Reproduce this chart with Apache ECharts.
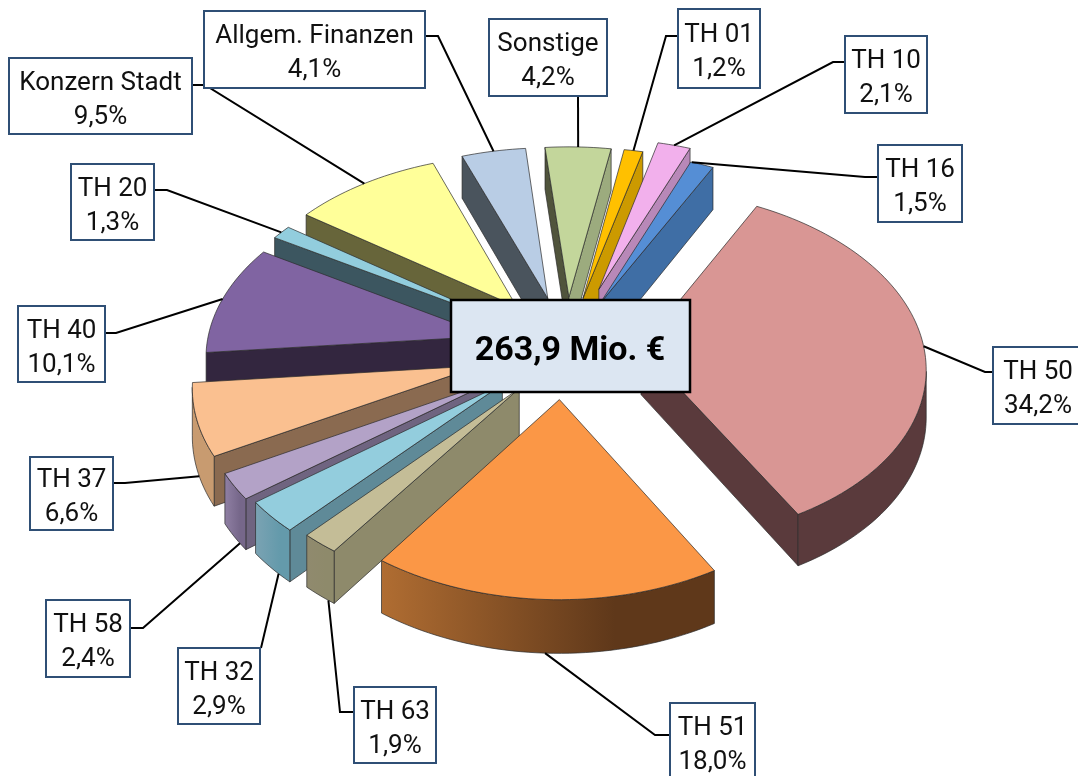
<!DOCTYPE html>
<html>
<head>
<meta charset="utf-8">
<title>263,9 Mio. €</title>
<style>
html, body { margin: 0; padding: 0; background: #fff; }
#main { width: 1078px; height: 776px; }
</style>
<script src="https://cdn.jsdelivr.net/npm/echarts@6/dist/echarts.min.js"></script>
</head>
<body>
<div id="main"></div>
<script>
// Daten
var categories = ['TH 50', 'TH 51', 'TH 63', 'TH 32', 'TH 58', 'TH 37', 'TH 40', 'TH 20',
    'Konzern Stadt', 'Allgem. Finanzen', 'Sonstige', 'TH 01', 'TH 10', 'TH 16'];
var shares = [34.2, 18.0, 1.9, 2.9, 2.4, 6.6, 10.1, 1.3, 9.5, 4.1, 4.2, 1.2, 2.1, 1.5];
var totalText = '263,9 Mio. €';

// Farben
var topColors = ['#d99694', '#fb9746', '#c4bd97', '#93cddd', '#b3a2c7', '#fac090', '#8064a2',
    '#92cddd', '#ffff99', '#b9cde5', '#c3d69b', '#ffc000', '#f2b0ec', '#558ed5'];
var startFaceColors = ['#5a3a3c', '#7a4a20', '#8e8a6b', '#5f8a98', '#6f6480', '#8a6a50', '#33263f',
    '#3c5660', '#67653a', '#4a545d', '#50543c', '#cc9a00', '#b888b8', '#3f6ea5'];
var endFaceColors = ['#5a3a3c', '#5a3a3c', '#8e8a6b', '#5f8a98', '#6f6480', '#c89b70', '#33263f',
    '#3c5660', '#67653a', '#4a545d', '#9cab7e', '#cc9a00', '#b888b8', '#3f6ea5'];
var rimDarkColors = ['#5a3a3c', '#5f381a', '#8e8a6b', '#649aab', '#76678a', '#c89b70', '#33263f',
    '#3c5660', '#67653a', '#4a545d', '#50543c', '#cc9a00', '#b888b8', '#3f6ea5'];
var rimLightColors = ['#5a3a3c', '#b06d32', '#908a6e', '#7ba3b3', '#9080a4', '#c89b70', '#33263f',
    '#3c5660', '#67653a', '#4a545d', '#50543c', '#cc9a00', '#b888b8', '#3f6ea5'];

// Lage der Beschriftungen: Kasten [x, y, b, h], Linie [Start am Kasten, Knick]
var labelBoxes = [[993, 347, 90, 77], [670, 703, 85, 77], [354, 687, 82, 76], [178, 648, 82, 76],
    [46, 600, 84, 77], [30, 457, 83, 73], [18, 306, 87, 76], [71, 164, 83, 76],
    [9, 58, 183, 76], [204, 11, 221, 77], [489, 19, 118, 77], [678, 9, 82, 79],
    [845, 36, 82, 77], [878, 145, 84, 77]];
var leaderStarts = [[993, 372], [670, 735], [354, 712], [261, 648], [130, 628], [113, 483], [105, 333],
    [154, 190], [192, 85], [425, 36], [578, 96], [678, 36], [845, 62], [878, 177]];
var leaderBends = [[985, 372], [655, 735], [340, 712], [261, 648], [143, 628], [125, 483], [116, 333],
    [167, 190], [205, 85], [438, 36], [578, 96], [666, 36], [833, 62], [865, 177]];
// wo die Linie am Rand des Stuecks ankommt (0 = Anfang, 1 = Ende)
var leaderAt = [0.5, 0.5, 0.2, 0.3, 0.25, 0.4, 0.5, 0.5, 0.5, 0.5, 0.5, 0.5, 0.5, 0.05];

// 3D Parameter
var cx = 565, cy = 345;
var explode = 80, wallHeight = 47;
var tilt = 0.615, persp = 2870;
var startAngle = 27;
// Feinlage je Stueck
var sliceRadius = [283, 277, 283, 283, 283, 283, 283, 283, 283, 283, 283, 283, 283, 283];
var sliceTurn = [1, 0, 0, 0, 0, 0, 0, 0, 0, 0, 0, 0, 0, 0];
var nudgeX = [-4, -2, 5, -3, -5, -8, 2, 0, -1, 0, 1, 2, 10, 3];
var nudgeY = [3, 4, 4, 5, 9, 6, 2, 2, 0, 0, 0, 0, -10, 2];

var total = 0;
shares.forEach(function (v) { total += v; });

function sliceAngles(i) {
    var before = 0;
    for (var k = 0; k < i; k++) { before += shares[k]; }
    var a0 = startAngle + sliceTurn[i] + before / total * 360;
    return [a0, a0 + shares[i] / total * 360];
}

// Boden-Koordinaten (x rechts, y nach hinten) auf den Bildschirm
function project(x, y, down) {
    var s = persp / (persp + y);
    return [cx + x * s, cy - y * tilt * s + down * s];
}

function slicePoint(i, deg, r, down) {
    var ang = sliceAngles(i);
    var a = deg * Math.PI / 180, m = (ang[0] + ang[1]) / 2 * Math.PI / 180;
    var p = project(explode * Math.sin(m) + r * Math.sin(a), explode * Math.cos(m) + r * Math.cos(a), down);
    return [p[0] + nudgeX[i], p[1] + nudgeY[i]];
}

function area(p) {
    var s = 0;
    for (var i = 0; i < p.length; i++) {
        var q = p[(i + 1) % p.length];
        s += p[i][0] * q[1] - q[0] * p[i][1];
    }
    return s / 2;
}

// von hinten nach vorne zeichnen
var depthRank = shares.map(function (v, i) {
    var ang = sliceAngles(i);
    return { i: i, d: Math.cos((ang[0] + ang[1]) / 2 * Math.PI / 180) };
}).sort(function (a, b) { return b.d - a.d; }).map(function (o) { return o.i; });

function face(points, fill, z2) {
    return {
        type: 'polygon',
        z2: z2,
        shape: { points: points },
        style: { fill: fill, stroke: '#2b2b2b', lineWidth: 0.7 },
        silent: true
    };
}

function renderSlice(params, api) {
    var i = params.dataIndex;
    var ang = sliceAngles(i);
    var a0 = ang[0], a1 = ang[1], mid = (a0 + a1) / 2;
    var r = sliceRadius[i];
    var base = depthRank.indexOf(i) * 10 + 1;
    var children = [];

    var apexTop = slicePoint(i, mid, 0, 0), apexBot = slicePoint(i, mid, 0, wallHeight);
    var startTop = slicePoint(i, a0, r, 0), startBot = slicePoint(i, a0, r, wallHeight);
    var endTop = slicePoint(i, a1, r, 0), endBot = slicePoint(i, a1, r, wallHeight);

    var startFace = [apexTop, startTop, startBot, apexBot];
    if (area(startFace) < 0) { children.push(face(startFace, startFaceColors[i], base)); }
    var endFace = [endTop, apexTop, apexBot, endBot];
    if (area(endFace) < 0) { children.push(face(endFace, endFaceColors[i], base)); }

    // Aussenwand: nur der sichtbare Teil, als ein Stueck mit Verlauf
    var steps = Math.max(2, Math.ceil((a1 - a0) / 1.5));
    var rimTop = [], rimBot = [], top = [apexTop];
    for (var n = 0; n <= steps; n++) {
        var a = a0 + (a1 - a0) * n / steps;
        top.push(slicePoint(i, a, r, 0));
        if (n < steps) {
            var b = a0 + (a1 - a0) * (n + 1) / steps;
            var seg = [slicePoint(i, a, r, 0), slicePoint(i, b, r, 0),
                slicePoint(i, b, r, wallHeight), slicePoint(i, a, r, wallHeight)];
            if (area(seg) < 0) {
                if (!rimTop.length) { rimTop.push(seg[0]); rimBot.push(seg[3]); }
                rimTop.push(seg[1]);
                rimBot.push(seg[2]);
            }
        }
    }
    if (rimTop.length) {
        children.push(face(rimTop.concat(rimBot.reverse()), new echarts.graphic.LinearGradient(0, 0, 1, 0, [
            { offset: 0, color: rimLightColors[i] },
            { offset: 0.7, color: rimDarkColors[i] },
            { offset: 1, color: rimDarkColors[i] }
        ]), base + 1));
    }

    children.push(face(top, topColors[i], base + 3));
    return { type: 'group', children: children };
}

function leaderEnd(i) {
    var ang = sliceAngles(i);
    var at = ang[0] + (ang[1] - ang[0]) * leaderAt[i];
    var front = Math.cos(at * Math.PI / 180) < 0;
    return slicePoint(i, at, sliceRadius[i], front ? wallHeight : 0);
}

function renderLabel(params, api) {
    var i = params.dataIndex;
    var box = labelBoxes[i];
    var text = categories[i] + '\n' + api.value(0).toFixed(1).replace('.', ',') + '%';
    return {
        type: 'group',
        children: [{
            type: 'polyline', z2: 1, silent: true,
            shape: { points: [leaderStarts[i], leaderBends[i], leaderEnd(i)] },
            style: { stroke: '#000', lineWidth: 2, fill: null }
        }, {
            type: 'rect', z2: 5, silent: true,
            shape: { x: box[0], y: box[1], width: box[2], height: box[3] },
            style: { fill: '#fff', stroke: '#2f4f75', lineWidth: 2 }
        }, {
            type: 'text', z2: 6, silent: true,
            style: {
                x: box[0] + box[2] / 2,
                y: box[1] + box[3] / 2 + 4,
                text: text,
                fill: '#111',
                font: '26px Roboto',
                lineHeight: 34,
                align: 'center',
                verticalAlign: 'middle'
            }
        }]
    };
}

var myChart = echarts.init(document.getElementById('main'));
var option = {
    animation: false,
    backgroundColor: '#fff',
    series: [{
        type: 'custom',
        coordinateSystem: 'none',
        renderItem: renderSlice,
        data: shares.map(function (v) { return [v]; }),
        z: 2,
        silent: true
    }, {
        type: 'custom',
        coordinateSystem: 'none',
        renderItem: renderLabel,
        data: shares.map(function (v) { return [v]; }),
        z: 3,
        silent: true
    }],
    graphic: [{
        type: 'rect', z: 10, silent: true,
        shape: { x: 451, y: 300, width: 239, height: 92 },
        style: { fill: '#dce6f2', stroke: '#000', lineWidth: 2.5 }
    }, {
        type: 'text', z: 11, silent: true,
        style: {
            x: 570, y: 351,
            text: totalText,
            fill: '#000',
            font: 'bold 34px Roboto',
            align: 'center',
            verticalAlign: 'middle'
        }
    }]
};
myChart.setOption(option);
</script>
</body>
</html>
